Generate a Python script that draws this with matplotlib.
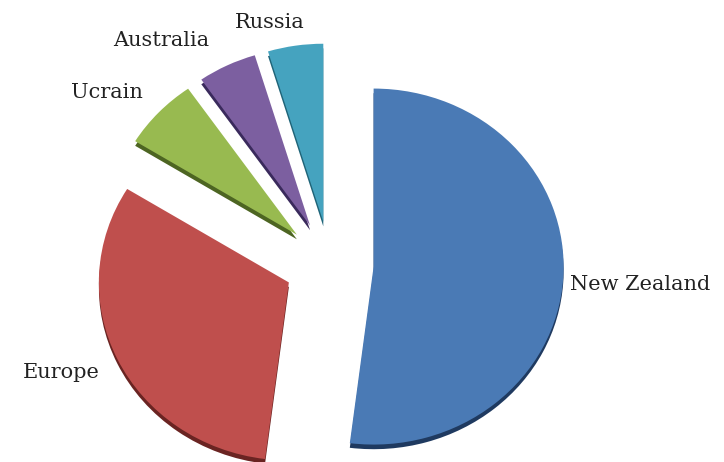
import matplotlib
matplotlib.use('Agg')
import matplotlib.pyplot as plt

regions = ['New Zealand', 'Europe', 'Ucrain', 'Australia', 'Russia']
shares = [52.0, 31.8, 6.5, 5.0, 4.7]
colors = ['#4a7ab5', '#bf4f4d', '#98ba50', '#7c5fa0', '#45a3bf']
dark_colors = ['#1f3a60', '#6a2422', '#4d6522', '#3a2a5c', '#1f6478']
explode = [0.23, 0.24, 0.24, 0.24, 0.24]

# pie is drawn in a unit circle, the axes limits squash it like the original
plt.rcParams['font.family'] = ['DejaVu Serif']
fig = plt.figure(figsize=(7.24, 4.62), dpi=100)
ax = fig.add_axes([0, 0, 1, 1])

# darker copy behind gives the 3d edge
ax.pie(shares, colors=dark_colors, explode=explode, startangle=90, counterclock=False,
       center=(0, -0.026), wedgeprops={'linewidth': 0})
wedges, texts = ax.pie(shares, colors=colors, explode=explode, startangle=90, counterclock=False,
                       labels=regions, wedgeprops={'linewidth': 0}, textprops={'fontsize': 15, 'color': '#222222'})

label_xy = [(570, 284), (23, 373), (71, 92), (113, 40), (235, 22)]
for t, (px, py) in zip(texts, label_xy):
    t.set_position(((px - 330) / 190, (264 - py) / 178))
    t.set_ha('left')
    t.set_va('center')

ax.set_aspect('auto')
ax.set_xlim(-330 / 190, 394 / 190)
ax.set_ylim((264 - 462) / 178, 264 / 178)
ax.axis('off')

fig.savefig('out.png', dpi=100)
